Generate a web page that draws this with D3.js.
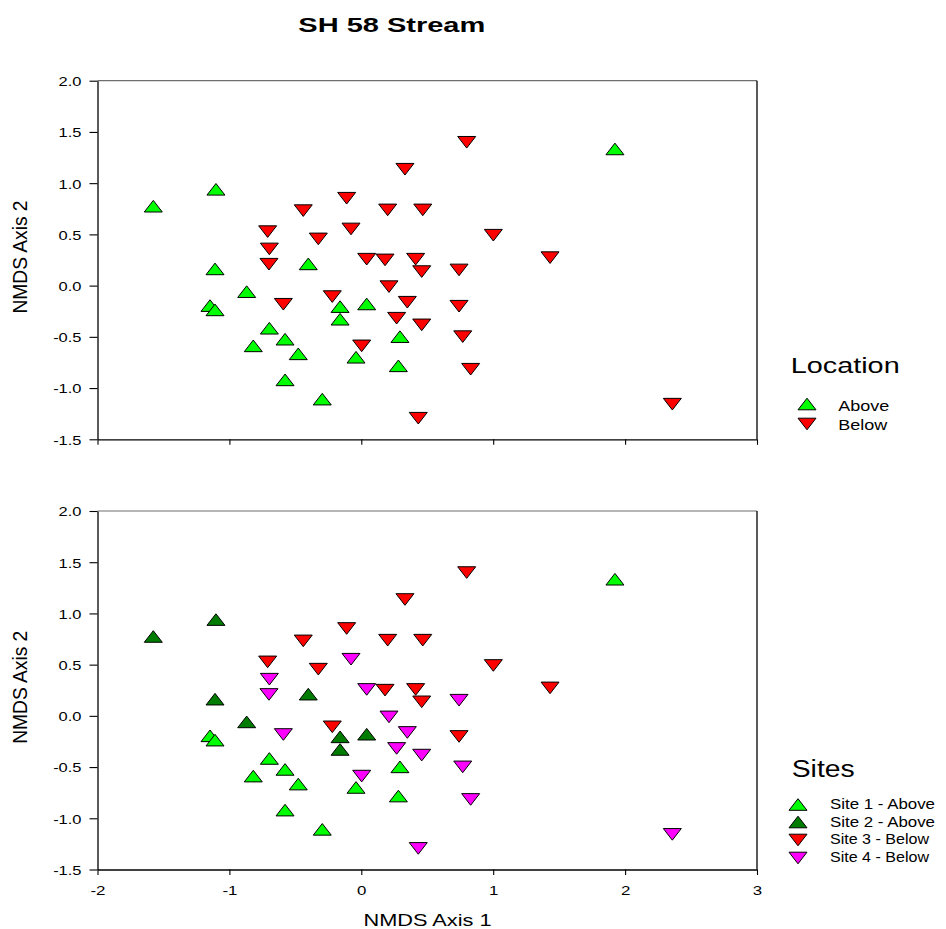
<!DOCTYPE html>
<html>
<head>
<meta charset="utf-8">
<script src="https://cdn.jsdelivr.net/npm/d3@7"></script>
<style>
  html, body { margin: 0; padding: 0; background: #fff; }
  text { font-family: "Liberation Sans", Arial, Helvetica, sans-serif; fill: #000; }
</style>
</head>
<body>
<script>
// ---------------- DATA ----------------
const title = "SH 58 Stream";
const xTitle = "NMDS Axis 1";
const yTitle = "NMDS Axis 2";

const xTickValues = [-2, -1, 0, 1, 2, 3];
const xTickLabels = ["-2", "-1", "0", "1", "2", "3"];
const yTickValues = [-1.5, -1.0, -0.5, 0.0, 0.5, 1.0, 1.5, 2.0];
const yTickLabels = ["-1.5", "-1.0", "-0.5", "0.0", "0.5", "1.0", "1.5", "2.0"];

// Above samples (Sites 1 & 2)
const aboveX = [-1.577, -1.102, -1.109, -0.869, -1.147, -1.109, -0.402, -0.161, -0.161, 0.041,
                -0.697, -0.819, -0.578, -0.478, -0.578, -0.296, -0.040, 0.293, 0.281, 1.923];
const aboveY = [0.775, 0.940, 0.163, -0.059, -0.195, -0.237, 0.212, -0.205, -0.328, -0.179,
                -0.416, -0.588, -0.523, -0.666, -0.920, -1.108, -0.699, -0.498, -0.783, 1.334];
const aboveSite = [2, 2, 2, 2, 1, 1, 2, 2, 2, 2,
                   1, 1, 1, 1, 1, 1, 1, 1, 1, 1];

// Below samples (Sites 3 & 4)
const belowX = [0.331, -0.111, -0.440, 0.200, 0.466, -0.710, -0.078, -0.326, -0.697, -0.700,
                0.041, 0.180, 0.412, 0.458, -0.591, -0.220, 0.210, 0.349, 0.268, 0.458,
                0.003, 0.432, 0.799, 1.001, 1.431, 0.741, 0.741, 0.769, 0.829, 2.358];
const belowY = [1.136, 0.853, 0.732, 0.739, 0.739, 0.527, 0.553, 0.456, 0.358, 0.209,
                0.258, 0.251, 0.258, 0.137, -0.182, -0.107, -0.010, -0.162, -0.318, -0.383,
                -0.588, -1.294, 1.399, 0.492, 0.273, 0.153, -0.201, -0.498, -0.816, -1.157];
const belowSite = [3, 3, 3, 3, 3, 3, 4, 3, 4, 4,
                   4, 3, 3, 3, 4, 3, 4, 4, 4, 4,
                   4, 4, 3, 3, 3, 4, 3, 4, 4, 4];

const locationNames = ["Above", "Below"];
const siteNames = ["Site 1 - Above", "Site 2 - Above", "Site 3 - Below", "Site 4 - Below"];
const siteIds = [1, 2, 3, 4];

// ---------------- STYLE ----------------
const locColor = { Above: "#00ff00", Below: "#ff0000" };
const siteColor = { 1: "#00ff00", 2: "#007c00", 3: "#ff0000", 4: "#ff00ff" };
const siteShape = { 1: "up", 2: "up", 3: "down", 4: "down" };
const TRI = { up: "M-9,5.8L9,5.8L0,-5.8Z", down: "M-9,-5.8L9,-5.8L0,5.8Z" };
const K = 1.35; // horizontal text stretch of the original

const W = 946, H = 929;
const svg = d3.select("body").append("svg").attr("width", W).attr("height", H);

const x = d3.scaleLinear().domain([-2, 3]).range([97.5, 757]);
const panels = [
  { y: d3.scaleLinear().domain([-1.5, 2.0]).range([439.3, 80.7]), mode: "location", xLabels: false },
  { y: d3.scaleLinear().domain([-1.5, 2.0]).range([869.5, 511]), mode: "site", xLabels: true }
];

function label(g, o) {
  const t = g.append("text")
    .attr("font-size", o.size)
    .attr("font-weight", o.weight || "normal")
    .attr("text-anchor", o.anchor || "start")
    .text(o.text);
  let tr = `translate(${o.x},${o.y})`;
  if (o.k) tr += ` scale(${o.k},1)`;
  if (o.rotate) tr += ` rotate(${o.rotate})`;
  t.attr("transform", tr);
  if (o.len) t.attr("textLength", o.len).attr("lengthAdjust", "spacingAndGlyphs");
  return t;
}

// Title
label(svg, { x: 298.3, y: 32.3, text: title, size: 20.5, weight: "bold", len: 187 });

const aboveData = aboveX.map((v, i) => ({ x: v, y: aboveY[i], loc: "Above", site: aboveSite[i] }));
const belowData = belowX.map((v, i) => ({ x: v, y: belowY[i], loc: "Below", site: belowSite[i] }));
const allData = belowData.concat(aboveData);

panels.forEach((p, pi) => {
  const g = svg.append("g");
  const [x0, x1] = x.range();
  const yTop = p.y(2.0), yBot = p.y(-1.5);

  // frame (top & right)
  g.append("line").attr("x1", x0).attr("x2", x1).attr("y1", yTop).attr("y2", yTop)
    .attr("stroke", "#6e6e6e").attr("stroke-width", 1.2);
  g.append("line").attr("x1", x1).attr("x2", x1).attr("y1", yTop).attr("y2", yBot)
    .attr("stroke", "#000").attr("stroke-width", 1.3);

  // left axis
  const ya = g.append("g").attr("transform", `translate(${x0},0)`)
    .call(d3.axisLeft(p.y).tickValues(yTickValues).tickSize(8).tickSizeOuter(0)
      .tickFormat((d, i) => yTickLabels[i]));
  ya.select(".domain").attr("stroke", "#000").attr("stroke-width", 1.3);
  ya.selectAll(".tick line").attr("stroke", "#000").attr("stroke-width", 1.1);
  ya.selectAll(".tick text")
    .attr("font-size", 12.2).attr("font-family", null)
    .attr("x", -16 / K).attr("dy", "0.4em")
    .attr("transform", `scale(${K},1)`);

  // bottom axis
  const xa = g.append("g").attr("transform", `translate(0,${yBot})`)
    .call(d3.axisBottom(x).tickValues(xTickValues).tickSize(5.5).tickSizeOuter(0)
      .tickFormat((d, i) => p.xLabels ? xTickLabels[i] : ""));
  xa.select(".domain").attr("stroke", "#000").attr("stroke-width", 1.3);
  xa.selectAll(".tick line").attr("stroke", "#000").attr("stroke-width", 1.1);
  xa.selectAll(".tick text")
    .attr("font-size", 12.5).attr("font-family", null)
    .attr("y", 25.5).attr("dy", 0)
    .attr("transform", `scale(${K},1)`);

  // y title
  label(g, { x: 27, y: (yTop + yBot) / 2 - 3, text: yTitle, size: 16, anchor: "middle",
             k: 1.3, rotate: -90, len: 113 });

  // points
  g.append("g").selectAll("path").data(allData).join("path")
    .attr("d", d => TRI[d.loc === "Above" ? "up" : "down"])
    .attr("transform", d => `translate(${x(d.x)},${p.y(d.y)})`)
    .attr("fill", d => p.mode === "location" ? locColor[d.loc] : siteColor[d.site])
    .attr("stroke", "#000").attr("stroke-width", 1);
});

// x title
label(svg, { x: 427.5, y: 925.7, text: xTitle, size: 17, anchor: "middle", len: 128 });

// Legend: Location
const lg1 = svg.append("g");
label(lg1, { x: 790.7, y: 373, text: "Location", size: 22.5, len: 109 });
const locLegY = [404, 424];
const locTextY = [411, 429.5];
const locTextLen = [51, 49];
locationNames.forEach((n, i) => {
  lg1.append("path").attr("d", TRI[i === 0 ? "up" : "down"])
    .attr("transform", `translate(807,${locLegY[i]})`)
    .attr("fill", locColor[n]).attr("stroke", "#000").attr("stroke-width", 1);
  label(lg1, { x: 838.3, y: locTextY[i], text: n, size: 14, len: locTextLen[i] });
});

// Legend: Sites
const lg2 = svg.append("g");
label(lg2, { x: 791.7, y: 776.7, text: "Sites", size: 23, len: 63 });
const siteLegY = [804.5, 822, 840, 858];
const siteTextY = [808.8, 826.6, 844.4, 862.2];
const siteTextLen = [105, 105, 99, 99];
siteIds.forEach((s, i) => {
  lg2.append("path").attr("d", TRI[siteShape[s]])
    .attr("transform", `translate(798,${siteLegY[i]})`)
    .attr("fill", siteColor[s]).attr("stroke", "#000").attr("stroke-width", 1);
  label(lg2, { x: 830, y: siteTextY[i], text: siteNames[i], size: 14, len: siteTextLen[i] });
});
</script>
</body>
</html>
